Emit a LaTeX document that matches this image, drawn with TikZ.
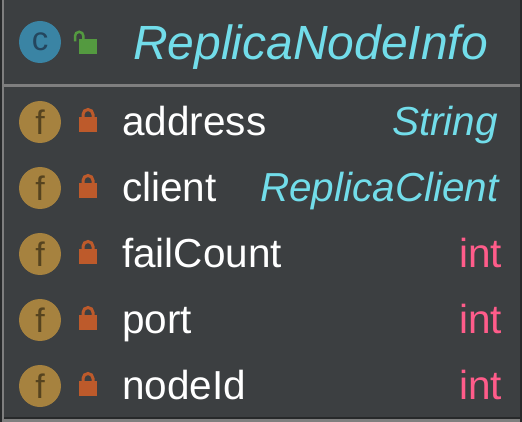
\documentclass[tikz,border=0pt]{standalone}
\usepackage{fontspec}
\setmainfont{Liberation Sans}
\definecolor{panelbg}{HTML}{3C3F41}
\definecolor{edgegrey}{HTML}{7F7F7F}
\definecolor{typeblue}{HTML}{72DDEA}
\definecolor{intpink}{HTML}{FF5C8A}
\definecolor{classblue}{HTML}{3A84A4}
\definecolor{classdark}{HTML}{24465E}
\definecolor{fieldgold}{HTML}{A6823F}
\definecolor{fielddark}{HTML}{55431F}
\definecolor{lockred}{HTML}{BD5A2B}
\definecolor{lockgreen}{HTML}{549A40}
\tikzset{
	fieldname/.style={anchor=base west,text=white,inner sep=0pt,font=\fontsize{40.5}{40.5}\selectfont},
	fieldtype/.style={anchor=base east,inner sep=0pt,font=\fontsize{40.5}{40.5}\selectfont},
	fieldicon/.style={circle,fill=fieldgold,minimum size=42pt,inner sep=0pt,text=fielddark,font=\fontsize{34}{34}\selectfont},
	classicon/.style={circle,fill=classblue,minimum size=42pt,inner sep=0pt,text=classdark,font=\fontsize{33}{33}\selectfont},
}
\begin{document}
\begin{tikzpicture}[x=1pt,y=-1pt]
		\useasboundingbox (0,0) rectangle (522,422);
		\fill[panelbg] (0,0) rectangle (522,422);
		\fill[black!35!panelbg] (0,0) rectangle (2,422);
		\fill[edgegrey] (2,0) rectangle (4,422);
		\fill[black!35!panelbg] (4,417) rectangle (520,419);
		\fill[edgegrey] (4,419) rectangle (522,422);
		\fill[edgegrey] (4,84) rectangle (520,87);
		\fill[black!35!panelbg] (520,0) rectangle (522,422);
		% header
		\node[classicon] (classicon) at (40,42) {c};
		\fill[lockgreen] (79,39) rectangle (97,54);
		\draw[lockgreen,line width=2.5pt] (75,41.5) -- (75,36) arc (180:360:4.2) -- (83.4,39);
		\node[anchor=base west,inner sep=0pt,text=typeblue,font=\fontsize{48}{48}\selectfont\itshape] (classname) at (133,60) {ReplicaNodeInfo};
		% fields
		\foreach \rowname/\fname/\ftype/\fcolor/\typex/\rowy in {address/address/String/typeblue/498/122,client/client/ReplicaClient/typeblue/499/188,failcount/failCount/int/intpink/502/254,port/port/int/intpink/502/320,nodeid/nodeId/int/intpink/502/386}{
			\node[fieldicon] (\rowname icon) at (40,\rowy) {f};
			\fill[lockred] (79,\rowy-5) rectangle (97,\rowy+10);
			\draw[lockred,line width=3pt] (83,\rowy-4) -- (83,\rowy-7.5) arc (180:360:5) -- (93,\rowy-4);
			\node[fieldname] (\rowname) at (122,\rowy+13.5) {\fname};
			\node[fieldtype,text=\fcolor] (\rowname type) at (\typex,\rowy+13.5) {\ifnum\pdfstrcmp{\ftype}{int}=0 \ftype\else\itshape\ftype\fi};
		}
\end{tikzpicture}
\end{document}
